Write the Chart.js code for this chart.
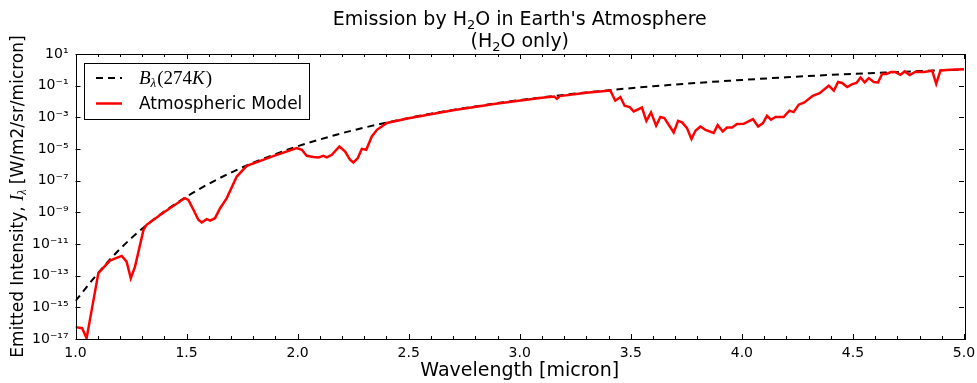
<!DOCTYPE html>
<html>
<head>
<meta charset="utf-8">
<script src="https://cdn.jsdelivr.net/npm/chart.js@4.4.1/dist/chart.umd.min.js"></script>
<style>
  html, body { margin: 0; padding: 0; background: #fff; }
</style>
</head>
<body>
<canvas id="grafico" width="977" height="383" style="width:977px;height:383px"></canvas>
<script>
// ---------- datos (exponentes log10) ----------
const planckWl = [1.0, 1.05, 1.1, 1.15, 1.2, 1.25, 1.3, 1.4, 1.5, 1.6, 1.7, 1.8, 1.9, 2.0, 2.1, 2.2, 2.3, 2.4,
  2.5, 2.6, 2.7, 2.8, 2.9, 3.0, 3.1, 3.2, 3.3, 3.4, 3.5, 3.6, 3.7, 3.8, 3.9, 4.0, 4.2, 4.4, 4.6, 4.8, 5.0];
const planckExp = [-14.6, -13.72, -12.86, -12.06, -11.32, -10.65, -10.04, -8.94, -8.01, -7.20, -6.49, -5.87, -5.32, -4.83, -4.40, -4.00, -3.65, -3.33,
  -3.04, -2.77, -2.53, -2.31, -2.10, -1.91, -1.74, -1.58, -1.43, -1.29, -1.16, -1.04, -0.93, -0.82, -0.73, -0.64, -0.47, -0.32, -0.20, -0.08, 0.02];

const modelWl = [1.0, 1.03, 1.05, 1.073, 1.103, 1.155, 1.208, 1.23, 1.249, 1.268, 1.306, 1.32, 1.40, 1.493, 1.508, 1.531,
  1.553, 1.568, 1.591, 1.606, 1.628, 1.651, 1.681, 1.726, 1.771, 1.90, 1.996, 2.019, 2.041, 2.071, 2.094, 2.116, 2.131,
  2.154, 2.188, 2.214, 2.236, 2.251, 2.271, 2.289, 2.309, 2.334, 2.357, 2.402, 2.50, 2.70, 2.90, 3.10, 3.155, 3.167, 3.18,
  3.30, 3.408, 3.430, 3.453, 3.472, 3.495, 3.513, 3.550, 3.570, 3.591, 3.614, 3.633, 3.651, 3.693, 3.713, 3.731, 3.753,
  3.773, 3.791, 3.813, 3.836, 3.873, 3.891, 3.914, 3.933, 3.956, 3.978, 4.008, 4.050, 4.073, 4.095, 4.113, 4.131, 4.151,
  4.188, 4.214, 4.233, 4.256, 4.281, 4.319, 4.350, 4.391, 4.414, 4.433, 4.451, 4.474, 4.497, 4.516, 4.534, 4.553, 4.571,
  4.594, 4.613, 4.632, 4.651, 4.672, 4.691, 4.714, 4.733, 4.755, 4.782, 4.819, 4.857, 4.875, 4.894, 4.939, 5.0];
const modelExp = [-16.25, -16.32, -16.95, -15.16, -12.84, -12.05, -11.75, -12.11, -13.16, -12.43, -10.11, -9.79, -8.98, -8.10, -8.21, -8.84,
  -9.47, -9.64, -9.43, -9.52, -9.37, -8.74, -8.10, -6.74, -6.06, -5.40, -4.94, -5.05, -5.43, -5.51, -5.53, -5.43, -5.53,
  -5.37, -4.84, -5.16, -5.68, -5.85, -5.57, -4.99, -5.05, -4.21, -3.79, -3.36, -3.06, -2.55, -2.12, -1.76, -1.68, -1.83, -1.66,
  -1.45, -1.31, -1.95, -1.72, -2.27, -2.35, -2.63, -2.38, -3.22, -2.69, -3.53, -2.98, -3.05, -3.96, -3.22, -3.32, -3.68,
  -4.37, -3.85, -3.58, -3.79, -3.99, -3.49, -3.89, -3.64, -3.64, -3.42, -3.41, -3.11, -3.58, -3.36, -2.90, -3.15, -2.98,
  -2.98, -2.58, -2.67, -2.20, -2.06, -1.64, -1.47, -1.00, -1.32, -0.77, -0.83, -1.09, -0.90, -0.83, -0.48, -0.79, -0.52,
  -0.77, -0.79, -0.25, -0.26, -0.14, -0.14, -0.31, -0.10, -0.33, -0.12, -0.14, -0.06, -0.88, -0.04, 0.01, 0.03];

const xTicks = [1.0, 1.5, 2.0, 2.5, 3.0, 3.5, 4.0, 4.5, 5.0];
const yTickExp = [1, -1, -3, -5, -7, -9, -11, -13, -15, -17];
const titulo = [['Emission by H', '2', 'O in Earth\'s Atmosphere'], ['(H', '2', 'O only)']];

const FUENTE = "'DejaVu Sans', sans-serif";
const SUP = { '-': '\u207B', '0': '\u2070', '1': '\u00B9', '2': '\u00B2', '3': '\u00B3', '4': '\u2074',
  '5': '\u2075', '6': '\u2076', '7': '\u2077', '8': '\u2078', '9': '\u2079' };

function puntos(wl, ex) {
  return wl.map((w, i) => ({ x: w, y: Math.pow(10, ex[i]) }));
}

// dibuja trozos de texto seguidos, centrados en cx
function textoPartes(c, partes, cx, cy) {
  let total = 0;
  partes.forEach(p => { c.font = p.f; p.w = c.measureText(p.t).width; total += p.w; });
  let pos = cx - total / 2;
  partes.forEach(p => { c.font = p.f; c.fillText(p.t, pos, cy + p.dy); pos += p.w; });
}

// marco, ticks hacia adentro, titulo, leyenda y titulo del eje y
const decoraciones = {
  id: 'decoraciones',
  afterDraw(chart) {
    const c = chart.ctx;
    const a = chart.chartArea;
    const sx = chart.scales.x, sy = chart.scales.y;
    c.save();
    c.strokeStyle = '#000';
    c.lineWidth = 1;
    c.setLineDash([]);
    c.strokeRect(Math.round(a.left) + 0.5, Math.round(a.top) + 0.5, Math.round(a.right - a.left), Math.round(a.bottom - a.top));

    c.beginPath();
    for (let k = 10; k <= 50; k++) {
      const px = Math.round(sx.getPixelForValue(k / 10)) + 0.5;
      const len = (k % 5 === 0) ? 5 : 3;
      c.moveTo(px, a.bottom); c.lineTo(px, a.bottom - len);
      c.moveTo(px, a.top); c.lineTo(px, a.top + len);
    }
    yTickExp.forEach(e => {
      const py = Math.round(sy.getPixelForValue(Number('1e' + e))) + 0.5;
      c.moveTo(a.left, py); c.lineTo(a.left + 5, py);
      c.moveTo(a.right, py); c.lineTo(a.right - 5, py);
    });
    c.stroke();

    // titulo
    c.fillStyle = '#000';
    c.textBaseline = 'alphabetic';
    c.textAlign = 'left';
    const cx = (a.left + a.right) / 2;
    titulo.forEach((linea, i) => {
      textoPartes(c, [
        { t: linea[0], f: '19px ' + FUENTE, dy: 0 },
        { t: linea[1], f: '13px ' + FUENTE, dy: 4 },
        { t: linea[2], f: '19px ' + FUENTE, dy: 0 }
      ], cx, 25 + i * 22);
    });

    // leyenda
    c.fillStyle = '#fff';
    c.fillRect(84, 63, 225, 56);
    c.strokeRect(84.5, 63.5, 225, 56);
    const ds = chart.data.datasets;
    c.lineWidth = 2;
    c.strokeStyle = ds[1].borderColor;
    c.setLineDash([7, 5]);
    c.beginPath(); c.moveTo(96, 78); c.lineTo(122, 78); c.stroke();
    c.setLineDash([]);
    c.lineWidth = 2.5;
    c.strokeStyle = ds[0].borderColor;
    c.beginPath(); c.moveTo(96, 103.5); c.lineTo(122, 103.5); c.stroke();

    c.fillStyle = '#000';
    let x = 139;
    c.font = "italic 19px 'Liberation Serif', serif";
    c.fillText('B', x, 84); x += c.measureText('B').width;
    c.font = "italic 13px 'Liberation Serif', serif";
    c.fillText('\u03BB', x, 87); x += c.measureText('\u03BB').width + 1;
    c.font = "19px 'Liberation Serif', serif";
    c.fillText('(274', x, 84); x += c.measureText('(274').width;
    c.font = "italic 19px 'Liberation Serif', serif";
    c.fillText('K', x, 84); x += c.measureText('K').width + 1;
    c.font = "19px 'Liberation Serif', serif";
    c.fillText(')', x, 84);
    c.font = '17px ' + FUENTE;
    c.fillText(ds[0].label, 139, 109);

    // titulo eje y
    c.translate(23, (a.top + a.bottom) / 2);
    c.rotate(-Math.PI / 2);
    textoPartes(c, [
      { t: 'Emitted Intensity, ', f: '17px ' + FUENTE, dy: 0 },
      { t: 'I', f: "italic 18px 'Liberation Serif', serif", dy: 0 },
      { t: '\u03BB', f: "italic 12px 'Liberation Serif', serif", dy: 3 },
      { t: ' [W/m2/sr/micron]', f: '17px ' + FUENTE, dy: 0 }
    ], 0, 0);
    c.restore();
  }
};

const ctx = document.getElementById('grafico').getContext('2d');

new Chart(ctx, {
  type: 'line',
  data: {
    datasets: [{
      label: 'Atmospheric Model',
      data: puntos(modelWl, modelExp),
      borderColor: '#ff0000',
      borderWidth: 2.5,
      pointRadius: 0,
      tension: 0,
      order: 1
    }, {
      label: 'B\u03BB(274K)',
      data: puntos(planckWl, planckExp),
      borderColor: '#000000',
      borderWidth: 2,
      borderDash: [7, 5],
      pointRadius: 0,
      cubicInterpolationMode: 'monotone',
      order: 2
    }]
  },
  options: {
    responsive: false,
    animation: false,
    layout: { padding: { left: 0, right: 13, top: 54, bottom: 0 } },
    plugins: {
      legend: { display: false },
      tooltip: { enabled: false },
      title: { display: false }
    },
    scales: {
      x: {
        type: 'linear',
        min: 1,
        max: 5,
        afterBuildTicks: s => { s.ticks = xTicks.map(v => ({ value: v })); },
        afterFit: s => { s.height = 44; s.paddingLeft = 0; s.paddingRight = 0; },
        grid: { display: false, drawTicks: false },
        border: { display: false },
        ticks: {
          color: '#000',
          padding: 6,
          maxRotation: 0,
          font: { family: FUENTE, size: 14 },
          callback: v => Number(v).toFixed(1)
        },
        title: {
          display: true,
          text: 'Wavelength [micron]',
          color: '#000',
          font: { family: FUENTE, size: 19 },
          padding: { top: 0, bottom: 1 }
        }
      },
      y: {
        type: 'logarithmic',
        min: 1e-17,
        max: 1e1,
        afterBuildTicks: s => { s.ticks = yTickExp.map(e => ({ value: Number('1e' + e) })); },
        afterFit: s => { s.width = 75.5; s.paddingTop = 0; s.paddingBottom = 0; },
        grid: { display: false, drawTicks: false },
        border: { display: false },
        ticks: {
          color: '#000',
          padding: 7,
          font: { family: FUENTE, size: 14 },
          callback: v => {
            const e = String(Math.round(Math.log10(v)));
            return '10' + e.split('').map(ch => SUP[ch]).join('');
          }
        }
      }
    }
  },
  plugins: [decoraciones]
});
</script>
</body>
</html>
